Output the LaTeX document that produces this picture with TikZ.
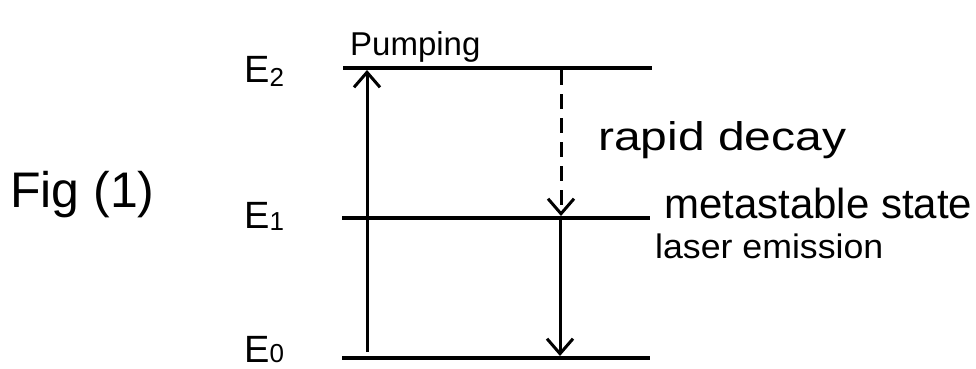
\documentclass[tikz,border=0pt]{standalone}
\usepackage{fontspec}
\setmainfont{Liberation Sans}
\usetikzlibrary{arrows.meta}
\newcommand{\esub}[2]{E\raisebox{#2}{\fontsize{26}{28}\selectfont #1}}
\begin{document}
\begin{tikzpicture}[x=1pt,y=-1pt,
  level/.style={line width=3.4pt},
  trans/.style={line width=3pt,-{Straight Barb[length=15pt,width=26pt,line width=3pt]}},
  lbl/.style={inner sep=0pt,anchor=base west}]
\useasboundingbox (0,0) rectangle (976,369);
% energy levels
\coordinate (e2l) at (343,68); \coordinate (e2r) at (652,68);
\coordinate (e1l) at (342,218); \coordinate (e1r) at (650,218);
\coordinate (e0l) at (342,358); \coordinate (e0r) at (650,358);
\draw[level] (e2l) -- (e2r);
\draw[level] (e1l) -- (e1r);
\draw[level] (e0l) -- (e0r);
% transitions
\coordinate (pb) at (367,352); \coordinate (pt) at (367,70);
\coordinate (dt) at (561,70); \coordinate (db) at (561,216);
\coordinate (lt) at (560,220); \coordinate (lb) at (560,356);
\draw[trans] (pb) -- (pt);
\draw[trans,dash pattern=on 15pt off 9pt] (dt) -- (db);
\draw[trans] (lt) -- (lb);
% labels
\node[lbl] (fig) at (10,207) {\fontsize{50}{54}\selectfont Fig (1)};
\node[lbl] (E2) at (244,82) {\fontsize{38}{40}\selectfont\esub{2}{-4pt}};
\node[lbl] (E1) at (244,228) {\fontsize{38}{40}\selectfont\esub{1}{-2pt}};
\node[lbl] (E0) at (244,362) {\fontsize{38}{40}\selectfont\esub{0}{0pt}};
\node[lbl] (pump) at (350,56) {\fontsize{33}{36}\selectfont Pumping};
\node[lbl] (rapid) at (598,150) {\fontsize{40}{44}\selectfont\scalebox{1.2}[1]{rapid decay}};
\node[lbl] (meta) at (664,218) {\fontsize{42}{46}\selectfont metastable state};
\node[lbl] (laser) at (655,258) {\fontsize{34}{38}\selectfont\scalebox{1.05}[1]{laser emission}};
\end{tikzpicture}
\end{document}
